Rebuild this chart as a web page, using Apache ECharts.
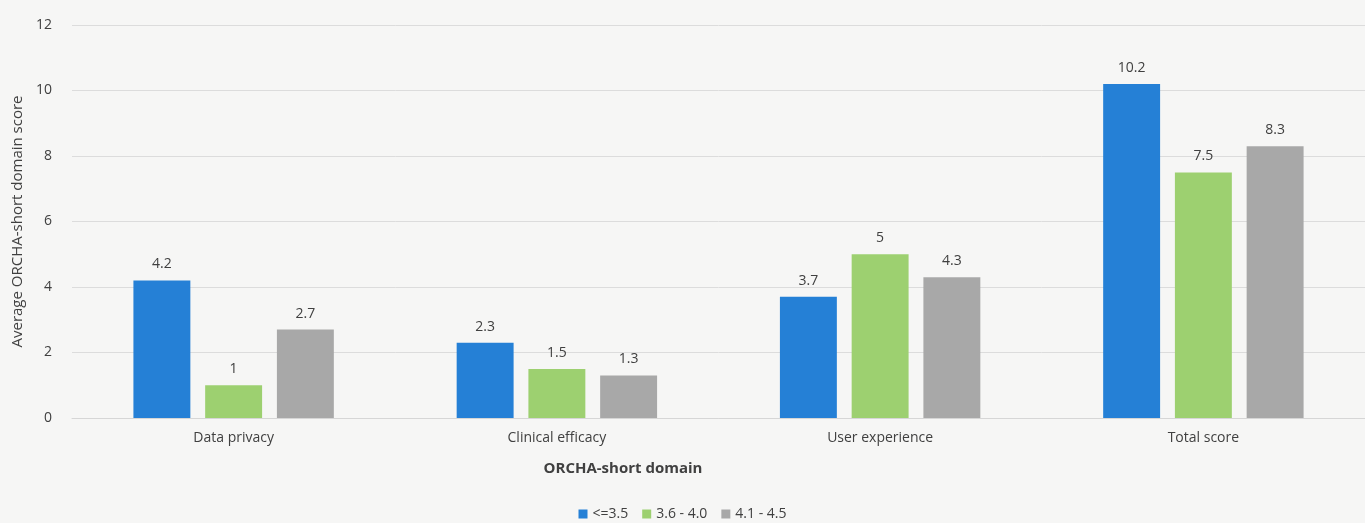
<!DOCTYPE html>
<html><head><meta charset="utf-8">
<script src="https://cdn.jsdelivr.net/npm/echarts@6/dist/echarts.min.js"></script>
<style>html,body{margin:0;padding:0;background:#f6f6f5;}#c{width:1365px;height:523px;}</style>
</head><body><div id="c"></div>
<script>
const categories = ['Data privacy', 'Clinical efficacy', 'User experience', 'Total score'];
const seriesNames = ['<=3.5', '3.6 - 4.0', '4.1 - 4.5'];
const low = [4.2, 2.3, 3.7, 10.2];
const mid = [1, 1.5, 5, 7.5];
const high = [2.7, 1.3, 4.3, 8.3];
const colors = ['#2580d6', '#9dd070', '#a8a8a8'];
const yTicks = [0, 2, 4, 6, 8, 10, 12];

const chart = echarts.init(document.getElementById('c'));
const font = 'Open Sans, Liberation Sans, sans-serif';
const mk = (name, data, color) => ({
  name, type: 'bar', data,
  itemStyle: { color },
  barGap: '26%', barCategoryGap: '38%',
  label: { show: true, position: 'top', distance: 9, color: '#404040', fontSize: 14, fontFamily: font }
});
chart.setOption({
  backgroundColor: '#f6f6f5',
  textStyle: { fontFamily: font },
  grid: { left: 72, right: 0, top: 25, bottom: 105 },
  legend: {
    bottom: -3, left: 'center', itemWidth: 9, itemHeight: 9, itemGap: 14,
    icon: 'rect', textStyle: { color: '#404040', fontSize: 14, fontFamily: font },
    data: seriesNames
  },
  title: {
    text: 'ORCHA-short domain', left: 618, top: 456, textAlign: 'center',
    textStyle: { fontSize: 15, fontWeight: 'bold', color: '#404040', fontFamily: font }
  },
  xAxis: {
    type: 'category', data: categories,
    axisLine: { lineStyle: { color: '#d6d6d6' } },
    axisTick: { show: false },
    axisLabel: { color: '#404040', fontSize: 14, margin: 13, fontFamily: font }
  },
  yAxis: {
    type: 'value', min: yTicks[0], max: yTicks[yTicks.length - 1], interval: 2,
    name: 'Average ORCHA-short domain score', nameLocation: 'middle', nameGap: 43,
    nameTextStyle: { color: '#404040', fontSize: 15, fontFamily: font },
    axisLine: { show: false }, axisTick: { show: false },
    axisLabel: { color: '#404040', fontSize: 14, margin: 20, fontFamily: font },
    splitLine: { lineStyle: { color: '#dcdcdc' } }
  },
  series: [mk(seriesNames[0], low, colors[0]), mk(seriesNames[1], mid, colors[1]), mk(seriesNames[2], high, colors[2])]
});
</script></body></html>
